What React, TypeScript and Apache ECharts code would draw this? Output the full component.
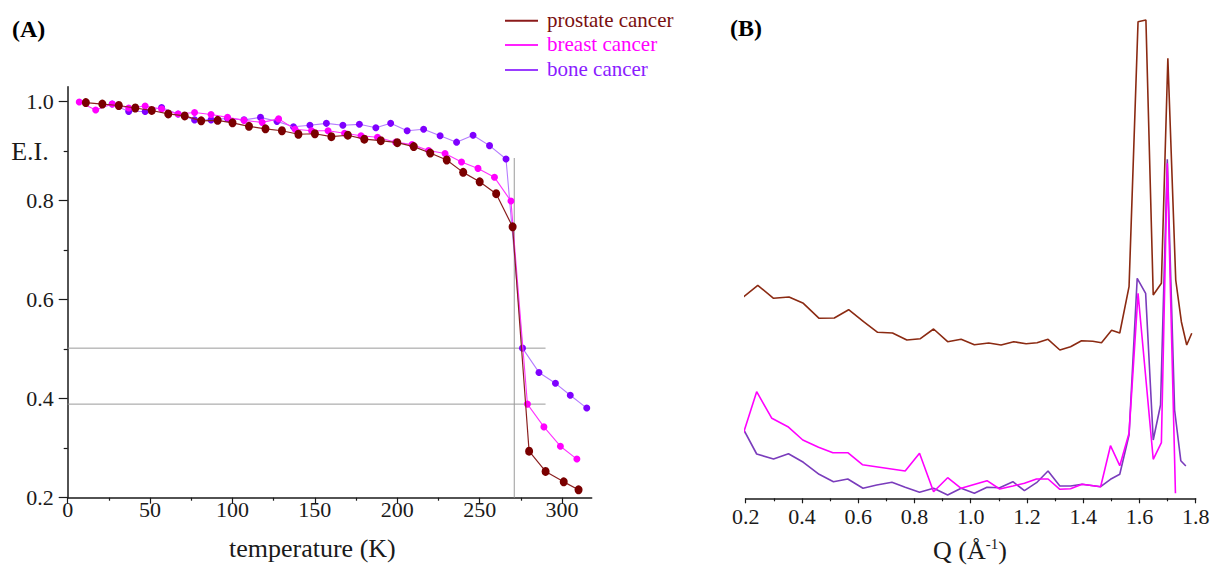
import React, { useEffect, useRef } from "react";
import * as echarts from "echarts";

// ---------- Panel A: E.I. vs temperature ----------
const prostateT = [11, 21, 31, 41, 51, 61, 71, 81, 91, 100, 110, 120, 130, 140, 150, 160, 170, 180, 190, 200, 210, 220, 230, 240, 250, 260, 270, 280, 290, 301, 310];
const prostateEI = [0.998, 0.995, 0.992, 0.987, 0.982, 0.975, 0.971, 0.961, 0.962, 0.957, 0.95, 0.945, 0.941, 0.934, 0.935, 0.929, 0.932, 0.924, 0.921, 0.917, 0.909, 0.896, 0.882, 0.857, 0.838, 0.814, 0.747, 0.294, 0.253, 0.232, 0.216];

const breastT = [7, 17, 27, 37, 47, 57, 67, 77, 87, 97, 107, 118, 128, 138, 148, 158, 168, 178, 188, 199, 209, 219, 229, 239, 249, 259, 269, 279, 289, 299, 309];
const breastEI = [0.999, 0.983, 0.995, 0.987, 0.991, 0.985, 0.975, 0.978, 0.974, 0.968, 0.962, 0.958, 0.965, 0.944, 0.941, 0.941, 0.936, 0.931, 0.928, 0.918, 0.913, 0.901, 0.895, 0.878, 0.865, 0.847, 0.799, 0.389, 0.343, 0.304, 0.278];

const boneT = [27, 37, 47, 57, 67, 77, 87, 97, 107, 117, 127, 137, 147, 157, 167, 177, 187, 196, 206, 216, 226, 236, 246, 256, 266, 276, 286, 296, 305, 315];
const boneEI = [0.995, 0.98, 0.98, 0.988, 0.975, 0.963, 0.963, 0.966, 0.963, 0.968, 0.96, 0.949, 0.952, 0.956, 0.952, 0.954, 0.947, 0.956, 0.941, 0.944, 0.931, 0.918, 0.932, 0.911, 0.884, 0.502, 0.453, 0.431, 0.407, 0.381];

// reference (guide) lines
const guideH1 = [[0, 0.502], [290, 0.502]];
const guideH2 = [[0, 0.389], [290, 0.389]];
const guideV = [[271, 0.2], [271, 0.886]];

const xTicksA = [0, 50, 100, 150, 200, 250, 300];
const xMinorA = [25, 75, 125, 175, 225, 275];
const yTicksA = [0.2, 0.4, 0.6, 0.8, 1.0];
const yMinorA = [0.3, 0.5, 0.7, 0.9];

// ---------- Panel B: intensity vs Q ----------
const prostateQ = [0.189, 0.243, 0.299, 0.354, 0.405, 0.461, 0.515, 0.566, 0.619, 0.669, 0.722, 0.773, 0.821, 0.868, 0.918, 0.966, 1.013, 1.064, 1.108, 1.153, 1.197, 1.236, 1.275, 1.317, 1.355, 1.394, 1.434, 1.465, 1.501, 1.53, 1.563, 1.595, 1.623, 1.649, 1.678, 1.701, 1.729, 1.749, 1.768, 1.786];
const prostateI = [2.006, 2.13, 2.0, 2.013, 1.95, 1.8, 1.803, 1.886, 1.766, 1.66, 1.653, 1.583, 1.596, 1.693, 1.566, 1.59, 1.536, 1.553, 1.533, 1.566, 1.546, 1.556, 1.59, 1.483, 1.516, 1.576, 1.57, 1.556, 1.68, 1.653, 2.116, 4.766, 4.783, 2.033, 2.15, 4.4, 2.183, 1.766, 1.533, 1.65];

const breastQ = [0.186, 0.239, 0.293, 0.35, 0.403, 0.459, 0.51, 0.563, 0.615, 0.767, 0.818, 0.868, 0.918, 0.966, 1.058, 1.103, 1.15, 1.191, 1.234, 1.275, 1.317, 1.355, 1.396, 1.462, 1.497, 1.53, 1.563, 1.595, 1.649, 1.678, 1.699, 1.728];
const breastI = [0.6, 1.066, 0.8, 0.716, 0.583, 0.51, 0.456, 0.456, 0.336, 0.273, 0.45, 0.066, 0.206, 0.1, 0.176, 0.093, 0.123, 0.15, 0.193, 0.193, 0.09, 0.096, 0.14, 0.116, 0.526, 0.326, 0.65, 2.05, 0.39, 0.556, 3.35, 0.05];

const boneQ = [0.186, 0.239, 0.299, 0.352, 0.405, 0.461, 0.512, 0.563, 0.617, 0.666, 0.72, 0.767, 0.818, 0.868, 0.918, 0.966, 1.013, 1.058, 1.103, 1.15, 1.191, 1.234, 1.275, 1.317, 1.355, 1.396, 1.462, 1.497, 1.53, 1.563, 1.592, 1.622, 1.649, 1.675, 1.699, 1.725, 1.747, 1.765];
const boneI = [0.723, 0.443, 0.393, 0.446, 0.36, 0.24, 0.166, 0.193, 0.1, 0.133, 0.16, 0.11, 0.06, 0.1, 0.033, 0.1, 0.05, 0.11, 0.106, 0.166, 0.076, 0.156, 0.273, 0.123, 0.123, 0.14, 0.116, 0.19, 0.24, 0.633, 2.2, 2.05, 0.583, 0.933, 3.39, 0.883, 0.376, 0.323];

const legendNames = ["prostate cancer", "breast cancer", "bone cancer"];

const FONT = "'Liberation Serif', 'Times New Roman', serif";
const AX = "#1a1a1a";

const zip = (a: number[], b: number[]) => a.map((v, i) => [v, b[i]]);

export default function App() {
  const ref = useRef<HTMLDivElement>(null);
  useEffect(() => {
    if (!ref.current) return;
    const chart = echarts.init(ref.current, undefined, { renderer: "svg" });

    const guideStyle = { color: "#9a9a9a", width: 1 };
    const guide = (d: number[][]) => ({
      type: "line",
      xAxisIndex: 0,
      yAxisIndex: 0,
      data: d,
      symbol: "none",
      silent: true,
      lineStyle: guideStyle,
      z: 1,
    });

    const legendColors = ["#8b1a1a", "#ff22ff", "#9a3cff"];
    const legendTextColors = ["#7a1010", "#ff00ff", "#8a1cff"];
    const legendY = [20.7, 45, 70];

    const option: any = {
      animation: false,
      backgroundColor: "#ffffff",
      textStyle: { fontFamily: FONT },
      grid: [
        { left: 67.7, top: 86.7, width: 524, height: 411 },
        { left: 745.7, top: 18.3, width: 450, height: 480 },
      ],
      xAxis: [
        {
          gridIndex: 0,
          type: "value",
          min: 0,
          max: 318,
          position: "bottom",
          axisLine: { show: true, lineStyle: { color: AX, width: 1.5 } },
          axisTick: { show: true, customValues: xTicksA, length: 6, lineStyle: { color: AX, width: 1.2 } },
          axisLabel: {
            customValues: xTicksA,
            fontSize: 22,
            fontFamily: FONT,
            color: AX,
            margin: 1,
          },
          splitLine: { show: false },
        },
        {
          gridIndex: 0,
          type: "value",
          min: 0,
          max: 318,
          position: "bottom",
          axisLine: { show: false },
          axisTick: { show: true, customValues: xMinorA, length: 3, lineStyle: { color: AX, width: 1.2 } },
          axisLabel: { show: false },
          splitLine: { show: false },
        },
        {
          gridIndex: 1,
          type: "value",
          min: 0.2,
          max: 1.8,
          interval: 0.2,
          position: "bottom",
          axisLine: { show: true, lineStyle: { color: AX, width: 1.5 } },
          axisTick: { show: true, length: 5, lineStyle: { color: AX, width: 1.2 } },
          minorTick: { show: true, splitNumber: 2, length: 3, lineStyle: { color: AX, width: 1.2 } },
          axisLabel: {
            fontSize: 22,
            fontFamily: FONT,
            color: AX,
            margin: 7,
            formatter: (v: number) => v.toFixed(1),
          },
          splitLine: { show: false },
          minorSplitLine: { show: false },
        },
      ],
      yAxis: [
        {
          gridIndex: 0,
          type: "value",
          min: 0.2,
          max: 1.03,
          position: "left",
          axisLine: { show: true, lineStyle: { color: AX, width: 1.5 } },
          axisTick: { show: true, customValues: yTicksA, length: 9, lineStyle: { color: AX, width: 1.2 } },
          axisLabel: {
            customValues: yTicksA,
            fontSize: 22,
            fontFamily: FONT,
            color: AX,
            margin: 14,
            formatter: (v: number) => v.toFixed(1),
          },
          splitLine: { show: false },
        },
        {
          gridIndex: 0,
          type: "value",
          min: 0.2,
          max: 1.03,
          position: "left",
          axisLine: { show: false },
          axisTick: { show: true, customValues: yMinorA, length: 4, lineStyle: { color: AX, width: 1.2 } },
          axisLabel: {
            customValues: [0.9],
            fontSize: 26,
            fontFamily: FONT,
            color: AX,
            margin: 19,
            formatter: () => "E.I.",
          },
          splitLine: { show: false },
        },
        {
          gridIndex: 1,
          type: "value",
          min: 0,
          max: 4.8,
          show: false,
        },
      ],
      series: [
        guide(guideH1),
        guide(guideH2),
        guide(guideV),
        {
          name: legendNames[2],
          type: "line",
          xAxisIndex: 0,
          yAxisIndex: 0,
          data: zip(boneT, boneEI),
          symbol: "circle",
          symbolSize: 7,
          itemStyle: { color: "#7f00ff" },
          lineStyle: { color: "#b57cff", width: 1.1 },
          z: 2,
        },
        {
          name: legendNames[1],
          type: "line",
          xAxisIndex: 0,
          yAxisIndex: 0,
          data: zip(breastT, breastEI),
          symbol: "circle",
          symbolSize: 7,
          itemStyle: { color: "#ff00ff" },
          lineStyle: { color: "#ff33ff", width: 1.1 },
          z: 3,
        },
        {
          name: legendNames[0],
          type: "line",
          xAxisIndex: 0,
          yAxisIndex: 0,
          data: zip(prostateT, prostateEI),
          symbol: "circle",
          symbolSize: [8, 9],
          itemStyle: { color: "#7a0000" },
          lineStyle: { color: "#8b2020", width: 1.2 },
          z: 4,
        },
        {
          type: "line",
          xAxisIndex: 2,
          yAxisIndex: 2,
          data: zip(prostateQ, prostateI),
          showSymbol: false,
          symbol: "none",
          clip: false,
          lineStyle: { color: "#8b2a12", width: 1.6 },
          z: 2,
        },
        {
          type: "line",
          xAxisIndex: 2,
          yAxisIndex: 2,
          data: zip(boneQ, boneI),
          showSymbol: false,
          symbol: "none",
          clip: false,
          lineStyle: { color: "#7a3cbc", width: 1.6 },
          z: 3,
        },
        {
          type: "line",
          xAxisIndex: 2,
          yAxisIndex: 2,
          data: zip(breastQ, breastI),
          showSymbol: false,
          symbol: "none",
          clip: false,
          lineStyle: { color: "#ff00ff", width: 1.6 },
          z: 4,
        },
      ],
      graphic: [
        {
          type: "text",
          x: 12,
          y: 29,
          style: { text: "(A)", font: `bold 24px ${FONT}`, fill: "#000", align: "left", verticalAlign: "middle", textAlign: "left", textVerticalAlign: "middle" },
        },
        {
          type: "text",
          x: 730,
          y: 28,
          style: { text: "(B)", font: `bold 24px ${FONT}`, fill: "#000", align: "left", verticalAlign: "middle", textAlign: "left", textVerticalAlign: "middle" },
        },
        {
          type: "text",
          x: 229,
          y: 548,
          style: { text: "temperature (K)", font: `26px ${FONT}`, fill: AX, align: "left", verticalAlign: "middle", textAlign: "left", textVerticalAlign: "middle" },
        },
        {
          type: "text",
          x: 970,
          y: 550,
          style: {
            text: "{a|Q (Å}{s|-1}{a|)}",
            align: "center",
            verticalAlign: "middle",
            textAlign: "center",
            textVerticalAlign: "middle",
            fill: AX,
            rich: {
              a: { fontSize: 26, fontFamily: FONT, fill: AX, color: AX },
              s: { fontSize: 15, fontFamily: FONT, fill: AX, color: AX, verticalAlign: "top", padding: [0, 0, 12, 0] },
            },
          },
        },
        ...legendNames.flatMap((name, i) => [
          {
            type: "line",
            shape: { x1: 505, y1: legendY[i], x2: 538, y2: legendY[i] },
            style: { stroke: legendColors[i], lineWidth: 2 },
          },
          {
            type: "text",
            x: 547,
            y: legendY[i] - 1,
            style: { text: name, font: `21px ${FONT}`, fill: legendTextColors[i], align: "left", verticalAlign: "middle", textAlign: "left", textVerticalAlign: "middle" },
          },
        ]),
      ],
    };

    chart.setOption(option);
    return () => chart.dispose();
  }, []);

  return (
    <div
      ref={ref}
      style={{ position: "fixed", left: 0, top: 0, width: 1213, height: 567, background: "#fff" }}
    />
  );
}
